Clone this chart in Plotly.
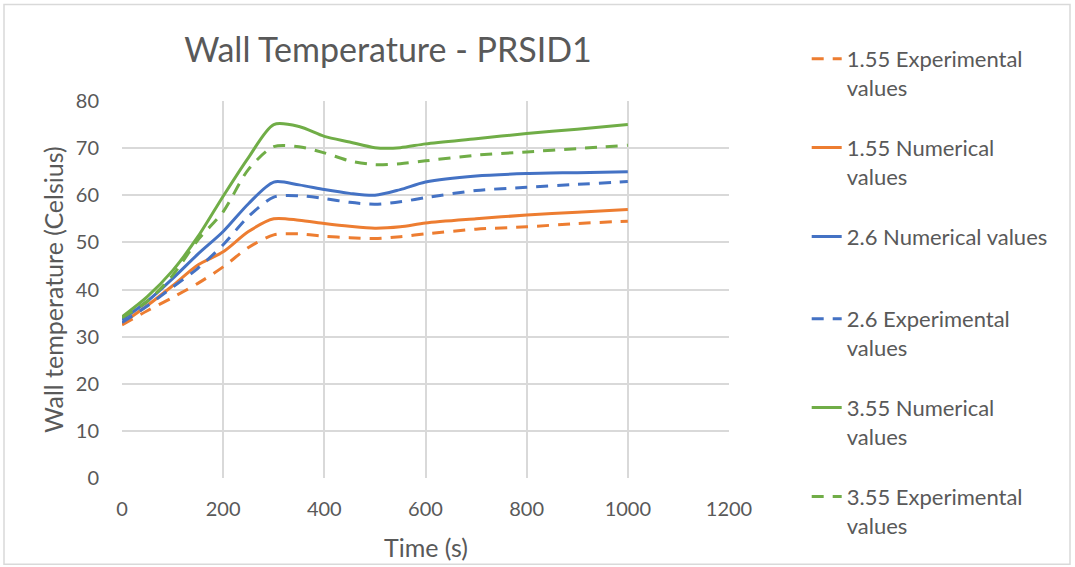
import plotly.graph_objects as go

time_s = [0, 50, 100, 150, 200, 250, 300, 350, 400, 450, 500, 550, 600, 700, 800, 900, 1000]

exp_155 = [32.5, 35.5, 38.3, 41.3, 44.8, 48.9, 51.6, 51.8, 51.3, 51.0, 50.8, 51.2, 51.8, 52.8, 53.3, 54.0, 54.5]
num_155 = [32.8, 36.6, 40.8, 45.2, 48.0, 52.3, 55.0, 54.7, 54.0, 53.4, 53.0, 53.3, 54.1, 55.0, 55.8, 56.4, 57.0]
num_26 = [33.6, 37.5, 42.3, 47.5, 52.3, 58.2, 62.8, 62.2, 61.2, 60.4, 60.0, 61.2, 62.8, 64.1, 64.6, 64.8, 65.0]
exp_26 = [33.0, 36.5, 40.5, 44.5, 49.5, 55.5, 59.6, 59.9, 59.3, 58.5, 58.1, 58.6, 59.5, 61.0, 61.7, 62.3, 62.9]
num_355 = [34.2, 38.5, 44.0, 51.2, 59.8, 68.0, 75.0, 74.6, 72.5, 71.3, 70.1, 70.1, 70.9, 72.0, 73.1, 74.0, 75.0]
exp_355 = [34.0, 37.5, 43.0, 50.5, 56.5, 65.5, 70.3, 70.3, 69.0, 67.3, 66.5, 66.7, 67.3, 68.5, 69.2, 69.9, 70.6]

series_names = [
    "1.55 Experimental<br>values<br> ",
    "1.55 Numerical<br>values<br> ",
    "2.6 Numerical values",
    "2.6 Experimental<br>values<br> ",
    "3.55 Numerical<br>values<br> ",
    "3.55 Experimental<br>values",
]
series_values = [exp_155, num_155, num_26, exp_26, num_355, exp_355]
series_colors = ["#ED7D31", "#ED7D31", "#4472C4", "#4472C4", "#70AD47", "#70AD47"]
series_dash = ["12px,9px", "solid", "solid", "12px,9px", "solid", "12px,9px"]
series_legend = ["legend", "legend", "legend", "legend2", "legend2", "legend2"]

x_title = "Time (s)"
y_title = "Wall temperature (Celsius)"
chart_title = "Wall Temperature - PRSID1"

TXT = "#595959"
GRID = "#D9D9D9"
FONT = "Lato"

fig = go.Figure()
for name, vals, col, dash, lg in zip(series_names, series_values, series_colors, series_dash, series_legend):
    fig.add_trace(go.Scatter(
        x=time_s, y=vals, name=name, mode="lines", legend=lg,
        line=dict(color=col, width=3, dash=dash, shape="spline", smoothing=0.8),
    ))

legend_common = dict(x=1.128, xref="paper", yref="container", xanchor="left", yanchor="top",
                     font=dict(family=FONT, size=22, color=TXT),
                     valign="top", bgcolor="rgba(0,0,0,0)", tracegroupgap=0)

fig.update_layout(
    width=1075, height=567,
    margin=dict(l=122, r=346, t=101, b=88.5, autoexpand=False),
    paper_bgcolor="white", plot_bgcolor="white",
    font=dict(family=FONT, size=20, color=TXT),
    title=dict(text=chart_title, font=dict(family=FONT, size=34, color=TXT),
               x=388 / 1075, xref="container", xanchor="center",
               y=1 - 50 / 567, yref="container", yanchor="middle"),
    legend=dict(y=1 - 38 / 567, **legend_common),
    legend2=dict(y=1 - 298 / 567, **legend_common),
    showlegend=True,
    xaxis=dict(range=[0, 1200], dtick=200, tick0=0, showgrid=True, gridcolor=GRID, gridwidth=1.5,
               zeroline=False, showline=False, ticks="outside", ticklen=13,
               tickcolor="rgba(0,0,0,0)", tickfont=dict(size=20, color=TXT)),
    yaxis=dict(range=[0, 80], dtick=10, tick0=0, showgrid=True, gridcolor=GRID, gridwidth=1.5,
               zeroline=False, showline=False, ticks="outside", ticklen=18,
               tickcolor="rgba(0,0,0,0)", tickfont=dict(size=20, color=TXT)),
    annotations=[
        dict(text=x_title, xref="paper", yref="paper", x=0.5, y=(478.5 - 548) / 377.8,
             xanchor="center", yanchor="middle", showarrow=False,
             font=dict(family=FONT, size=25, color=TXT)),
        dict(text=y_title, xref="paper", yref="paper", x=(52.5 - 122) / 607, y=0.5,
             xanchor="center", yanchor="middle", textangle=-90, showarrow=False,
             font=dict(family=FONT, size=25, color=TXT)),
    ],
    shapes=[dict(type="rect", xref="paper", yref="paper",
                 x0=(4 - 122) / 607, x1=(1070 - 122) / 607,
                 y0=(478.5 - 565) / 377.8, y1=(478.5 - 4) / 377.8,
                 line=dict(color=GRID, width=1.5), layer="below")],
)

fig.write_html("out.html")
